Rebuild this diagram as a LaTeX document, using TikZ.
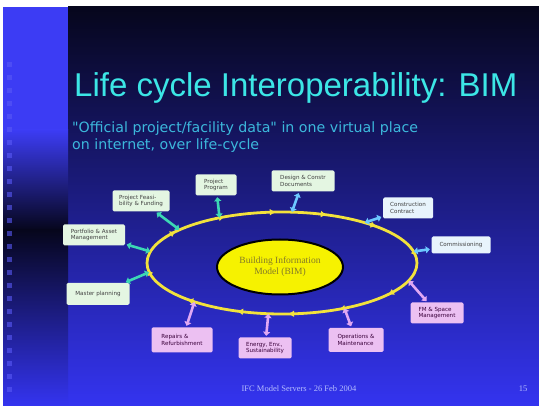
\documentclass[tikz,border=0pt]{standalone}
\usepackage{fontspec}
\setmainfont{Liberation Serif}
\newfontfamily\headfont{Liberation Sans}
\newfontfamily\labelfont{DejaVu Sans}
\usepackage{xcolor}
\definecolor{BIMnavy}{HTML}{06061C}
\definecolor{BIMmid}{HTML}{1C1CB0}
\definecolor{BIMblue}{HTML}{3434F0}
\definecolor{BIMstrip}{HTML}{3C3CF4}
\definecolor{BIMcyan}{HTML}{3CE6E6}
\definecolor{BIMsub}{HTML}{3CB8DC}
\definecolor{BIMring}{HTML}{F2E23C}
\definecolor{BIMcore}{HTML}{F6F200}
\definecolor{BIMcoretext}{HTML}{847A28}
\definecolor{BIMgreen}{HTML}{E4F6E2}
\definecolor{BIMice}{HTML}{E8F4FC}
\definecolor{BIMpink}{HTML}{ECC0F2}
\definecolor{BIMteal}{HTML}{3CD8B4}
\definecolor{BIMsky}{HTML}{6CC8FF}
\definecolor{BIMlilac}{HTML}{E0A8F4}
\definecolor{BIMfoot}{HTML}{B4BCFF}
\usetikzlibrary{arrows.meta, decorations.markings, shapes.geometric}

\begin{document}
\begin{tikzpicture}[x=1pt, y=-1pt,
  stage/.style={rounded corners=1.5pt, inner sep=2.5pt, align=left,
    minimum height=21pt, text=black!75,
    font=\labelfont\fontsize{5.6}{6.8}\selectfont},
  greenstage/.style={stage, fill=BIMgreen},
  icestage/.style={stage, fill=BIMice},
  pinkstage/.style={stage, fill=BIMpink, text=violet!45!black},
  link/.style={line width=2.6pt, shorten <=1.5pt,
    {Triangle[width=7pt,length=4pt]}-{Triangle[width=7pt,length=4pt]}},
  ringmarks/.style={postaction={decorate}, decoration={markings,
    mark=between positions 0.02 and 1 step 0.0833 with
      {\arrow{Triangle[reversed,width=6pt,length=5pt]}}}}
]
\useasboundingbox (0,0) rectangle (539,406);
\fill[white] (0,0) rectangle (539,406);
\shade[top color=BIMnavy, middle color=BIMmid, bottom color=BIMblue] (68,7) rectangle (539,406);
\fill[BIMstrip] (3,7) rectangle (68,130);
\shade[top color=BIMstrip, bottom color=BIMnavy] (3,130) rectangle (68,230);
\shade[top color=BIMnavy, bottom color=BIMblue] (3,230) rectangle (68,406);
\foreach \y in {62,75,...,392}
  \fill[BIMstrip!85!white, opacity=0.6] (7,\y) rectangle +(5,5);

\node[anchor=base west, inner sep=0, text=BIMcyan,
  font=\headfont\fontsize{33}{36}\selectfont] (title) at (74,97)
  {Life cycle Interoperability: BIM};
\node[anchor=north west, inner sep=0, align=left, text=BIMsub,
  font=\labelfont\fontsize{14.2}{17}\selectfont] (subtitle) at (72,122)
  {"Official project/facility data" in one virtual place\\on internet, over life-cycle};

\node[ellipse, minimum width=270pt, minimum height=102pt, inner sep=0] (ring) at (282,263) {};
\draw[BIMring, line width=2.8pt, ringmarks] (ring.center) ellipse [x radius=135pt, y radius=51pt];
\node[ellipse, fill=BIMcore, draw=black, line width=2pt, minimum width=126pt,
  minimum height=55pt, align=center, text=BIMcoretext,
  font=\fontsize{9.5}{11}\selectfont] (core) at (280,267)
  {Building Information\\Model (BIM)};

\node[greenstage, minimum width=57pt] (feas) at (141,201) {Project Feasi-\\bility \& Funding};
\node[greenstage, minimum width=41pt] (program) at (216,185) {Project\\Program};
\node[greenstage, minimum width=63pt] (design) at (303,181) {Design \& Constr\\Documents};
\node[icestage, minimum width=50pt] (contract) at (408,208) {Construction\\Contract};
\node[icestage, minimum width=59pt, minimum height=17pt] (commission) at (461,245) {Commissioning};
\node[pinkstage, minimum width=53pt] (fm) at (437,313) {FM \& Space\\Management};
\node[pinkstage, minimum width=55pt, minimum height=24pt] (operate) at (356,340) {Operations \&\\Maintenance};
\node[pinkstage, minimum width=53pt] (energy) at (265,348) {Energy, Env.,\\Sustainability};
\node[pinkstage, minimum width=61pt, minimum height=25pt] (repair) at (182,340) {Repairs \&\\Refurbishment};
\node[greenstage, minimum width=63pt, minimum height=22pt] (master) at (98,294) {Master planning};
\node[greenstage, minimum width=62pt] (portfolio) at (94,235) {Portfolio \& Asset\\Management};

\draw[link, BIMteal] (feas) -- (ring.162);
\draw[link, BIMteal] (program) -- (ring.144);
\draw[link, BIMsky] (design) -- (ring.79);
\draw[link, BIMsky] (contract) -- (ring.26);
\draw[link, BIMsky] (commission) -- (ring.5);
\draw[link, BIMlilac] (fm) -- (ring.-8);
\draw[link, BIMlilac] (operate) -- (ring.-36);
\draw[link, BIMlilac] (energy) -- (ring.-105);
\draw[link, BIMlilac] (repair) -- (ring.-156);
\draw[link, BIMteal] (master) -- (ring.-176);
\draw[link, BIMteal] (portfolio) -- (ring.175);

\node[text=BIMfoot, font=\fontsize{8.5}{10}\selectfont] (footer) at (299,389)
  {IFC Model Servers - 26 Feb 2004};
\node[text=BIMfoot, font=\fontsize{8.5}{10}\selectfont] (slideno) at (523,389) {15};
\end{tikzpicture}
\end{document}
